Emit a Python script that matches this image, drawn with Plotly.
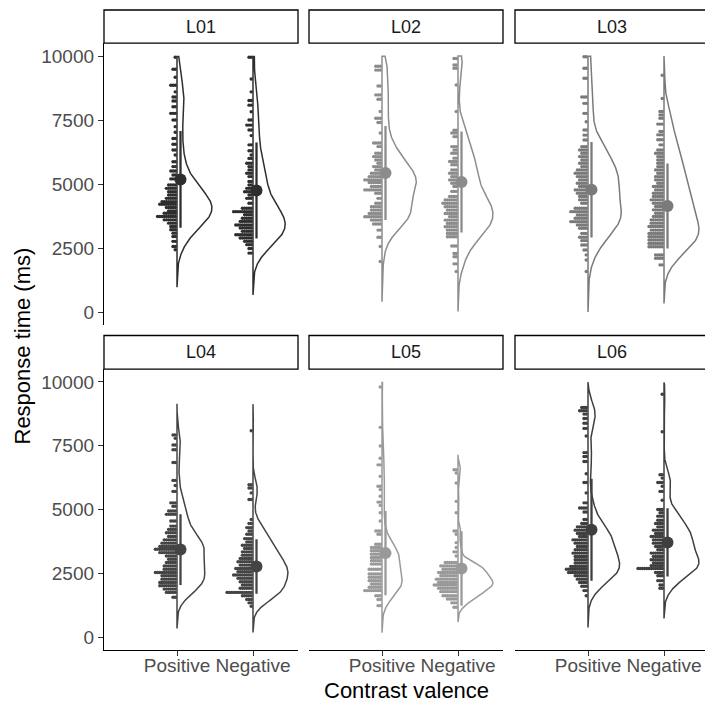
import numpy as np
import plotly.graph_objects as go

W = H = 705
panels = ["L01", "L02", "L03", "L04", "L05", "L06"]
conditions = ["Positive", "Negative"]
panel_colors = ["#2e2e2e", "#8c8c8c", "#7a7a7a", "#444444", "#999999", "#3f3f3f"]
y_ticks = [0, 2500, 5000, 7500, 10000]
y_tick_labels = ["0", "2500", "5000", "7500", "10000"]

# ---- response times (ms), with the number of trials at each value ----
l01_pos_rt = [9950, 9480, 9170, 8860, 8600, 8400, 8240, 8020, 7760, 7500, 7240, 7020, 6780, 6550, 6330, 6130, 5870, 5680, 5510, 5350, 5200, 4960, 4830, 4700, 4570, 4440, 4310, 4210, 4080, 3950, 3860, 3730, 3600, 3470, 3340, 3210, 3080, 2950, 2760, 2560, 2430]
l01_pos_n = [1, 2, 1, 3, 1, 2, 2, 2, 3, 2, 1, 1, 2, 2, 2, 1, 2, 2, 3, 2, 3, 4, 5, 4, 4, 5, 7, 8, 5, 4, 6, 9, 6, 4, 3, 3, 2, 2, 2, 2, 1]
l01_neg_rt = [9950, 9100, 8600, 8260, 8080, 7820, 7500, 7300, 7110, 6890, 6530, 6300, 6130, 6000, 5810, 5680, 5550, 5420, 5290, 5100, 4960, 4830, 4700, 4570, 4440, 4250, 4050, 3920, 3800, 3660, 3540, 3400, 3280, 3150, 3020, 2890, 2760, 2630, 2480, 2300]
l01_neg_n = [2, 1, 1, 2, 2, 1, 2, 3, 2, 1, 2, 2, 1, 2, 3, 2, 2, 3, 2, 2, 2, 3, 4, 2, 3, 2, 5, 9, 4, 5, 6, 8, 6, 5, 8, 6, 4, 3, 2, 2]

l02_pos_rt = [9600, 9450, 8830, 8480, 8310, 7830, 7570, 7400, 6990, 6600, 6460, 6200, 6070, 5940, 5810, 5680, 5550, 5420, 5290, 5160, 5060, 4900, 4770, 4640, 4440, 4250, 4110, 3980, 3850, 3720, 3590, 3440, 3200, 2920, 2560, 1970]
l02_pos_n = [3, 3, 2, 3, 2, 1, 3, 2, 1, 4, 2, 3, 4, 3, 2, 4, 3, 5, 6, 8, 6, 5, 8, 3, 2, 3, 5, 5, 6, 8, 5, 4, 2, 2, 1, 1]
l02_neg_rt = [9900, 9650, 9520, 8870, 7830, 7100, 6990, 6850, 6460, 6330, 6200, 6010, 5880, 5750, 5550, 5420, 5290, 5160, 5030, 4900, 4710, 4510, 4380, 4250, 4110, 3980, 3850, 3720, 3590, 3460, 3330, 3200, 3070, 2940, 2580, 2290, 2160, 1880, 1580]
l02_neg_n = [2, 2, 2, 1, 1, 2, 3, 2, 3, 2, 3, 2, 4, 3, 3, 4, 3, 4, 3, 2, 3, 4, 6, 7, 6, 5, 6, 4, 6, 5, 6, 5, 5, 5, 3, 2, 2, 2, 1]

l03_pos_rt = [9970, 9520, 9130, 8400, 8150, 7760, 7430, 7110, 6910, 6720, 6460, 6330, 6200, 6070, 5940, 5810, 5680, 5550, 5420, 5290, 5160, 5030, 4900, 4770, 4640, 4510, 4380, 4250, 4050, 3920, 3790, 3660, 3530, 3400, 3270, 3070, 2920, 2790, 2620, 2420, 2230, 2030, 1580]
l03_pos_n = [2, 2, 2, 3, 2, 2, 1, 2, 2, 2, 3, 4, 3, 4, 3, 4, 3, 5, 6, 5, 4, 5, 4, 6, 5, 4, 4, 3, 6, 8, 5, 6, 8, 5, 4, 3, 4, 3, 3, 2, 1, 1, 1]
l03_neg_rt = [9250, 8340, 7830, 7700, 7570, 7340, 7050, 6920, 6730, 6530, 6330, 6200, 6070, 5940, 5810, 5680, 5550, 5420, 5290, 5160, 5030, 4900, 4770, 4640, 4510, 4380, 4250, 4120, 3990, 3860, 3730, 3600, 3470, 3340, 3200, 3070, 2940, 2810, 2680, 2550, 2230, 2100, 1840]
l03_neg_n = [1, 1, 2, 2, 2, 3, 2, 3, 3, 2, 3, 4, 3, 3, 3, 3, 4, 3, 4, 4, 3, 5, 4, 5, 5, 6, 5, 4, 5, 4, 5, 6, 6, 7, 6, 7, 7, 7, 7, 7, 4, 4, 2]

l04_pos_rt = [7920, 7790, 7530, 7340, 6840, 6140, 5940, 5710, 5260, 5130, 4940, 4810, 4550, 4350, 4220, 4090, 3940, 3810, 3680, 3550, 3440, 3310, 3180, 3050, 2920, 2790, 2660, 2530, 2400, 2270, 2140, 2010, 1880, 1750, 1560]
l04_pos_n = [2, 1, 2, 2, 2, 2, 1, 2, 3, 2, 4, 5, 3, 3, 4, 5, 4, 6, 7, 8, 10, 8, 5, 4, 5, 6, 6, 10, 7, 7, 8, 8, 6, 5, 2]
l04_neg_rt = [8090, 5970, 5840, 5650, 5390, 4610, 4450, 4290, 4160, 4030, 3860, 3730, 3600, 3470, 3340, 3210, 3080, 2950, 2820, 2690, 2560, 2430, 2300, 2170, 2040, 1910, 1750, 1620, 1470, 1340, 1210]
l04_neg_n = [1, 2, 2, 1, 2, 1, 2, 3, 2, 3, 4, 3, 5, 4, 5, 5, 6, 7, 6, 8, 7, 9, 7, 6, 5, 6, 12, 5, 3, 2, 1]

l05_pos_rt = [9800, 8220, 7490, 7010, 6750, 6300, 5910, 5780, 5520, 5290, 5160, 4870, 4550, 4160, 4030, 3640, 3510, 3380, 3250, 3120, 2990, 2860, 2660, 2470, 2340, 2210, 2080, 1950, 1820, 1620, 1470, 1230]
l05_pos_n = [1, 1, 1, 1, 2, 1, 2, 1, 1, 2, 1, 1, 1, 3, 2, 3, 5, 5, 5, 5, 5, 5, 6, 6, 6, 6, 5, 6, 8, 3, 2, 2]
l05_neg_rt = [6560, 6430, 6040, 5320, 4870, 4160, 4030, 3700, 3510, 3340, 3180, 2920, 2790, 2660, 2530, 2400, 2270, 2140, 2040, 1910, 1780, 1620, 1490, 1340, 1170]
l05_neg_n = [2, 1, 1, 1, 1, 2, 1, 1, 1, 2, 1, 6, 8, 7, 9, 8, 10, 9, 11, 9, 8, 7, 5, 3, 2]

l06_pos_rt = [9000, 8870, 8740, 8570, 8380, 8180, 7880, 7230, 7080, 6880, 6400, 6060, 5650, 5260, 5060, 4900, 4610, 4450, 4320, 4190, 4060, 3940, 3810, 3680, 3550, 3420, 3290, 3160, 3030, 2900, 2770, 2660, 2530, 2400, 2270, 2140, 1990, 1820, 1620]
l06_pos_n = [3, 4, 2, 2, 2, 2, 1, 2, 2, 2, 1, 2, 1, 2, 4, 2, 2, 3, 5, 6, 5, 4, 7, 6, 5, 6, 7, 6, 6, 6, 8, 10, 9, 6, 5, 4, 3, 2, 1]
l06_neg_rt = [9520, 8050, 6360, 6230, 6060, 5910, 5710, 5360, 5000, 4870, 4740, 4580, 4450, 4320, 4190, 4060, 3940, 3810, 3680, 3550, 3420, 3290, 3160, 3030, 2900, 2800, 2690, 2530, 2400, 2210, 2040, 1910]
l06_neg_n = [1, 1, 2, 1, 3, 1, 2, 1, 3, 2, 3, 3, 4, 3, 5, 4, 6, 5, 5, 4, 3, 6, 5, 6, 5, 6, 12, 4, 3, 3, 2, 2]

# ---- summary statistics shown as point (mean) and bar (mean +/- SD) ----
pos_mean = [5180, 5430, 4780, 3430, 3290, 4210]
pos_sd = [1890, 1840, 1865, 1385, 1650, 2000]
neg_mean = [4750, 5080, 4145, 2765, 2690, 3710]
neg_sd = [1875, 1975, 1660, 1070, 1460, 1340]

rt_data = [
    [(l01_pos_rt, l01_pos_n), (l01_neg_rt, l01_neg_n)],
    [(l02_pos_rt, l02_pos_n), (l02_neg_rt, l02_neg_n)],
    [(l03_pos_rt, l03_pos_n), (l03_neg_rt, l03_neg_n)],
    [(l04_pos_rt, l04_pos_n), (l04_neg_rt, l04_neg_n)],
    [(l05_pos_rt, l05_pos_n), (l05_neg_rt, l05_neg_n)],
    [(l06_pos_rt, l06_pos_n), (l06_neg_rt, l06_neg_n)],
]
means = [[pos_mean[i], neg_mean[i]] for i in range(6)]
sds = [[pos_sd[i], neg_sd[i]] for i in range(6)]

Y_MIN, Y_MAX = 0, 10000


def kde(vals, counts):
    x = np.repeat(np.asarray(vals, float), counts)
    n = x.size
    sd = x.std(ddof=1)
    q75, q25 = np.percentile(x, [75, 25])
    lo = min(sd, (q75 - q25) / 1.34)
    bw = 0.9 * lo * n ** -0.2
    grid = np.linspace(x.min() - 3 * bw, x.max() + 3 * bw, 512)
    dens = np.exp(-0.5 * ((grid[:, None] - x[None, :]) / bw) ** 2).sum(1) / (n * bw * np.sqrt(2 * np.pi))
    keep = (grid >= Y_MIN) & (grid <= Y_MAX)
    return grid[keep], dens[keep]


# ---- layout geometry (pixels) ----
col_px = [(104, 298), (309, 503), (515, 705)]
row_px = [(43.2, 324.8), (369.2, 649.8)]
strip_px = [(10, 43.2), (335.5, 369.2)]
px_per_unit = 76.0
x_left = 1 - 73.0 / px_per_unit
violin_half = 0.46
dot_step = 2.2 / px_per_unit
dot_start = 1.8 / px_per_unit
stat_offset = 3.5 / px_per_unit

FONT = "Liberation Sans, Arial, sans-serif"

fig = go.Figure()
layout = dict(width=W, height=H, margin=dict(l=0, r=0, t=0, b=0),
              paper_bgcolor="white", plot_bgcolor="white", showlegend=False,
              font=dict(family=FONT))
shapes = []
annotations = []

for p, name in enumerate(panels):
    r, c = divmod(p, 3)
    k = p + 1
    xa_name = "xaxis" if k == 1 else f"xaxis{k}"
    ya_name = "yaxis" if k == 1 else f"yaxis{k}"
    xref = "x" if k == 1 else f"x{k}"
    yref = "y" if k == 1 else f"y{k}"
    x0, x1 = col_px[c]
    y0, y1 = row_px[r]
    layout[xa_name] = dict(
        domain=[x0 / W, x1 / W], range=[x_left, x_left + (x1 - x0) / px_per_unit],
        anchor=yref, tickvals=[1, 2], ticktext=conditions,
        showticklabels=(r == 1), ticks="outside" if r == 1 else "",
        ticklen=5, tickwidth=1.2, tickcolor="#333333", ticklabelstandoff=-7,
        showline=(r == 1), linecolor="black", linewidth=1.3,
        showgrid=False, zeroline=False, fixedrange=True,
        tickfont=dict(size=19, color="#4d4d4d", family=FONT))
    layout[ya_name] = dict(
        domain=[1 - y1 / H, 1 - y0 / H], range=[-500, 10500],
        anchor=xref, tickvals=y_ticks, ticktext=y_tick_labels,
        showticklabels=(c == 0), ticks="outside" if c == 0 else "",
        ticklen=5, tickwidth=1.2, tickcolor="#333333",
        showline=(c == 0), linecolor="black", linewidth=1.3,
        showgrid=False, zeroline=False, fixedrange=True,
        tickfont=dict(size=19, color="#4d4d4d", family=FONT))

    col = panel_colors[p]
    curves = [kde(v, n) for v, n in rt_data[p]]
    dmax = max(d.max() for _, d in curves)

    for j, cond in enumerate(conditions):
        xc = j + 1
        g, d = curves[j]
        w = d / dmax * violin_half
        vx = [xc] + list(xc + w) + [xc, xc]
        vy = [g[0]] + list(g) + [g[-1], g[0]]
        fig.add_trace(go.Scatter(x=vx, y=vy, mode="lines", xaxis=xref, yaxis=yref,
                                 line=dict(color=col, width=1.5), hoverinfo="skip"))
        vals, cnts = rt_data[p][j]
        dx, dy = [], []
        for v, n in zip(vals, cnts):
            for i in range(n):
                dx.append(xc - dot_start - i * dot_step)
                dy.append(v)
        fig.add_trace(go.Scatter(x=dx, y=dy, mode="markers", xaxis=xref, yaxis=yref,
                                 marker=dict(size=3.4, color=col, line=dict(width=0)),
                                 hoverinfo="skip"))
        m, s = means[p][j], sds[p][j]
        fig.add_trace(go.Scatter(x=[xc + stat_offset, xc + stat_offset], y=[m - s, m + s],
                                 mode="lines", xaxis=xref, yaxis=yref,
                                 line=dict(color=col, width=2.3), hoverinfo="skip"))
        fig.add_trace(go.Scatter(x=[xc + stat_offset], y=[m], mode="markers",
                                 xaxis=xref, yaxis=yref,
                                 marker=dict(size=12, color=col, line=dict(width=0)),
                                 hoverinfo="skip"))

    s0, s1 = strip_px[r]
    shapes.append(dict(type="rect", xref="paper", yref="paper",
                       x0=x0 / W, x1=(x1 if c < 2 else x1 + 5) / W,
                       y0=1 - s1 / H, y1=1 - s0 / H,
                       line=dict(color="black", width=1.3), fillcolor="white", layer="below"))
    annotations.append(dict(text=name, xref="paper", yref="paper",
                            x=(x0 + (x1 if c < 2 else x1 + 4)) / 2 / W, y=1 - (s0 + s1) / 2 / H,
                            showarrow=False, xanchor="center", yanchor="middle",
                            font=dict(size=18, color="#1a1a1a", family=FONT)))

annotations.append(dict(text="Response time (ms)", xref="paper", yref="paper",
                        x=22 / W, y=1 - 346.5 / H, textangle=-90, showarrow=False,
                        xanchor="center", yanchor="middle",
                        font=dict(size=22, color="black", family=FONT)))
annotations.append(dict(text="Contrast valence", xref="paper", yref="paper",
                        x=406 / W, y=1 - 690 / H, showarrow=False,
                        xanchor="center", yanchor="middle",
                        font=dict(size=22, color="black", family=FONT)))
layout["shapes"] = shapes
layout["annotations"] = annotations
fig.update_layout(**layout)
fig.write_html("out.html")
